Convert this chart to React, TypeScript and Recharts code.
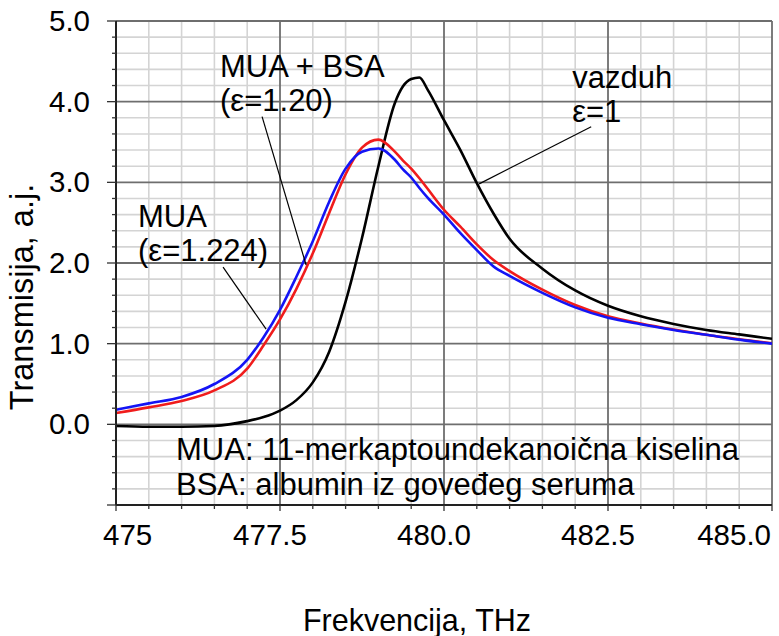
import { LineChart, Line, XAxis, YAxis, ReferenceLine, ReferenceDot } from "recharts";

// frequency, THz
const freq = [
  475, 475.5, 476, 476.5, 477, 477.25, 477.5, 477.75, 478, 478.25, 478.5, 478.75, 479, 479.25, 479.375,
  479.5, 479.625, 479.75, 480, 480.25, 480.5, 480.75, 481, 481.5, 482, 482.5, 483, 483.5, 484, 484.5, 485,
];
// vazduh, eps = 1
const vazduh = [
  -0.02, -0.03, -0.03, -0.02, 0.04, 0.09, 0.17, 0.3, 0.52, 0.9, 1.52, 2.31, 3.2, 3.98, 4.19,
  4.28, 4.3, 4.15, 3.77, 3.4, 2.99, 2.62, 2.3, 1.93, 1.66, 1.47, 1.34, 1.245, 1.17, 1.115, 1.06,
];
// MUA + BSA, eps = 1.20
const muaBsa = [
  0.14, 0.21, 0.29, 0.42, 0.69, 0.98, 1.3, 1.68, 2.12, 2.62, 3.1, 3.43, 3.53, 3.38, 3.27,
  3.17, 3.05, 2.92, 2.66, 2.45, 2.23, 2.04, 1.9, 1.67, 1.48, 1.34, 1.25, 1.175, 1.11, 1.055, 1.005,
];
// MUA, eps = 1.224
const mua = [
  0.18, 0.26, 0.34, 0.5, 0.8, 1.08, 1.42, 1.83, 2.27, 2.76, 3.17, 3.38, 3.42, 3.28, 3.16,
  3.06, 2.93, 2.81, 2.6, 2.37, 2.16, 1.96, 1.84, 1.63, 1.45, 1.32, 1.24, 1.17, 1.11, 1.05, 1.0,
];

const xMajor = [475, 477.5, 480, 482.5, 485];
const yMajor = [0, 1, 2, 3, 4, 5];
const X_DOMAIN = [475, 485];
const Y_DOMAIN = [-1, 5];

const data = freq.map((f, i) => ({ f, vazduh: vazduh[i], muaBsa: muaBsa[i], mua: mua[i] }));

const steps = (from: number, to: number, step: number) => {
  const out: number[] = [];
  for (let v = from; v <= to + 1e-9; v += step) out.push(Math.round(v * 1000) / 1000);
  return out;
};
const isIn = (v: number, list: number[]) => list.some((m) => Math.abs(m - v) < 1e-6);
const xMinor = steps(475, 485, 0.5);
const yMinor = steps(-1, 5, 0.2);
const xMinorOnly = xMinor.filter((v) => !isIn(v, xMajor));
const yMinorOnly = yMinor.filter((v) => !isIn(v, yMajor) && v !== -1);

const FONT = "Liberation Sans, Arial, sans-serif";
const GRID_MINOR = "#d4d4d4";
const GRID_MAJOR = "#6e6e6e";

const xLabel = (v: number) => (v === 475 ? "475" : v.toFixed(1));

function XTick(props: any) {
  const { x, y, payload } = props;
  const v = payload.value as number;
  const major = isIn(v, xMajor);
  let anchor = "middle";
  let tx = x - 10;
  if (v === 475) {
    anchor = "start";
    tx = x - 13;
  } else if (v === 485) {
    anchor = "end";
    tx = x - 1;
  }
  return (
    <g>
      <line x1={x} x2={x} y1={y} y2={y + (major ? 6 : 4)} stroke="#333" strokeWidth={1.3} />
      {major && (
        <text x={tx} y={y + 40} textAnchor={anchor} fontSize={29.5} fontFamily={FONT} fill="#000">
          {xLabel(v)}
        </text>
      )}
    </g>
  );
}

function YTick(props: any) {
  const { x, y, payload } = props;
  const v = payload.value as number;
  const major = isIn(v, yMajor) || v === -1;
  const labeled = isIn(v, yMajor);
  return (
    <g>
      <line x1={x - (major ? 9 : 4)} x2={x} y1={y} y2={y} stroke="#333" strokeWidth={1.3} />
      {labeled && (
        <text x={x - 26} y={y + 10} textAnchor="end" fontSize={29.5} fontFamily={FONT} fill="#000">
          {v.toFixed(1)}
        </text>
      )}
    </g>
  );
}

// grid as segments across the whole plot
const vSeg = (v: number) => [{ x: v, y: Y_DOMAIN[0] }, { x: v, y: Y_DOMAIN[1] }];
const hSeg = (v: number) => [{ x: X_DOMAIN[0], y: v }, { x: X_DOMAIN[1], y: v }];

// annotation anchors in data units: [freq, transmission]
const notes = [
  { at: [476.586, 4.311], lines: ["MUA + BSA", "(ε=1.20)"] },
  { at: [475.336, 2.447], lines: ["MUA", "(ε=1.224)"] },
  { at: [481.954, 4.174], lines: ["vazduh", "ε=1"] },
  { at: [475.915, -0.447], lines: ["MUA: 11-merkaptoundekanoična kiselina", "BSA: albumin iz goveđeg seruma"] },
];
const leaders = [
  [[477.227, 3.814], [477.898, 1.975]],
  [[476.632, 1.95], [477.288, 1.18]],
  [[482.244, 3.689], [480.536, 2.981]],
];

export default function App() {
  return (
    <div style={{ position: "absolute", left: 0, top: 0, width: 779, height: 636, background: "#fff" }}>
      <LineChart width={779} height={636} data={data} margin={{ top: 21, right: 7, bottom: 0, left: 0 }}>
        {xMinorOnly.map((v) => (
          <ReferenceLine key={`mx${v}`} segment={vSeg(v)} stroke={GRID_MINOR} strokeWidth={1.6} />
        ))}
        {yMinorOnly.map((v) => (
          <ReferenceLine key={`my${v}`} segment={hSeg(v)} stroke={GRID_MINOR} strokeWidth={1.6} />
        ))}
        {xMajor.map((v) => (
          <ReferenceLine key={`gx${v}`} segment={vSeg(v)} stroke={GRID_MAJOR} strokeWidth={1.8} />
        ))}
        {yMajor.map((v) => (
          <ReferenceLine key={`gy${v}`} segment={hSeg(v)} stroke={GRID_MAJOR} strokeWidth={1.8} />
        ))}
        <XAxis
          dataKey="f"
          type="number"
          domain={X_DOMAIN}
          ticks={xMinor}
          interval={0}
          tickSize={0}
          tickMargin={0}
          tickLine={false}
          tick={XTick}
          height={131}
          axisLine={{ stroke: "#222", strokeWidth: 2 }}
          allowDataOverflow
          label={{
            content: (p: any) => {
              const vb = p.viewBox || { x: 116, y: 505, width: 656, height: 131 };
              return (
                <text x={vb.x + vb.width / 2 - 27} y={vb.y + 126} textAnchor="middle" fontSize={30.5} fontFamily={FONT} fill="#000">
                  Frekvencija, THz
                </text>
              );
            },
          }}
        />
        <YAxis
          type="number"
          domain={Y_DOMAIN}
          ticks={yMinor}
          interval={0}
          tickSize={0}
          tickMargin={0}
          tickLine={false}
          tick={YTick}
          width={116}
          axisLine={{ stroke: "#222", strokeWidth: 2 }}
          allowDataOverflow
          label={{
            content: (p: any) => {
              const vb = p.viewBox || { x: 0, y: 21, width: 116, height: 484 };
              const cx = vb.x + 33;
              const cy = vb.y + vb.height / 2 + 34;
              return (
                <text x={cx} y={cy} transform={`rotate(-90 ${cx} ${cy})`} textAnchor="middle" fontSize={32.5} fontFamily={FONT} fill="#000">
                  Transmisija, a.j.
                </text>
              );
            },
          }}
        />
        <Line type="monotone" dataKey="vazduh" stroke="#000" strokeWidth={2.6} dot={false} isAnimationActive={false} />
        <Line type="monotone" dataKey="muaBsa" stroke="#f01c1c" strokeWidth={2.6} dot={false} isAnimationActive={false} />
        <Line type="monotone" dataKey="mua" stroke="#1414f5" strokeWidth={2.6} dot={false} isAnimationActive={false} />
        {leaders.map((s, i) => (
          <ReferenceLine
            key={`l${i}`}
            segment={[{ x: s[0][0], y: s[0][1] }, { x: s[1][0], y: s[1][1] }]}
            stroke="#000"
            strokeWidth={1.2}
            ifOverflow="visible"
          />
        ))}
        {notes.map((n, i) => (
          <ReferenceDot
            key={`n${i}`}
            x={n.at[0]}
            y={n.at[1]}
            r={0}
            ifOverflow="visible"
            shape={(p: any) => (
              <text x={p.cx} y={p.cy} fontSize={31} fontFamily={FONT} fill="#000">
                {n.lines.map((t, j) => (
                  <tspan key={j} x={p.cx} dy={j === 0 ? 0 : 34.5}>
                    {t}
                  </tspan>
                ))}
              </text>
            )}
          />
        ))}
      </LineChart>
    </div>
  );
}
